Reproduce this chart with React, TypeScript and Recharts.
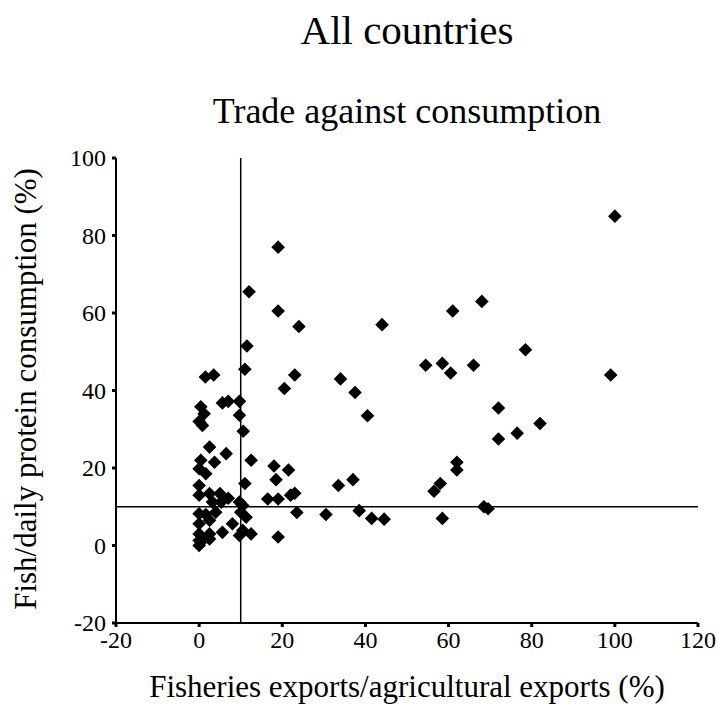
import { ScatterChart, Scatter, XAxis, YAxis, ReferenceLine } from 'recharts';

// Fisheries exports / agricultural exports (%)
const exportShare = [
  100, 68, 61, 44, 78.5, 54.5, 58.5, 60.5, 66, 99, 40.5, 72, 72, 76.5, 82, 62, 62, 58, 56.5, 68.5, 69.5, 58.5, 41.5, 44.5,
  19, 12, 19, 24, 11.5, 11, 1.5, 3.5, 23, 20.5, 34, 37.5, 21.5, 18.5, 18, 12.5, 33.5, 37, 23, 22, 16.5, 19, 23.5, 30.5, 38.5, 19,
  0.4, 1.2, 0, 0.8, 5.6, 7, 9.7, 9.7, 10.6, 2.5, 6.5, 0.4, 3.7, 0, 1.6, 11, 0, 0, 2.5, 5, 7, 9.7, 3.2, 5.3, 10.5,
  0, 0, 0, 0, 1.6, 2.5, 4, 2.5, 5.6, 8, 10, 11.3, 10.5, 9.7, 12.5, 0.8, 2.5, 0,
];

// Fish / daily protein consumption (%)
const proteinShare = [
  85, 63, 60.5, 57, 50.5, 46.5, 47, 44.5, 46.5, 44, 33.5, 35.5, 27.5, 29, 31.5, 21.5, 19.5, 16, 14, 10, 9.5, 7, 7, 6.8,
  77, 65.5, 60.5, 56.5, 51.5, 45.5, 43.5, 44, 44, 40.5, 43, 39.5, 19.5, 17, 20.5, 22, 15.5, 17, 13.5, 13, 12, 12, 8.5, 8, 9, 2.2,
  35.8, 34, 32, 31, 36.8, 37.2, 37.2, 33.6, 29.5, 25.4, 23.7, 22, 21.5, 19.8, 18.5, 16, 15.5, 13, 13.4, 13.4, 12.2, 11.2, 11.2, 11.2, 10.3,
  8.2, 5.6, 3, 1.3, 8, 6.5, 8.6, 3, 3.4, 5.6, 8.6, 7.3, 3.9, 2.6, 3, 1.3, 1.7, 0,
];

const xTicks = [-20, 0, 20, 40, 60, 80, 100, 120];
const yTicks = [-20, 0, 20, 40, 60, 80, 100];

const data = exportShare.map((x, i) => ({ x, y: proteinShare[i] }));

const FONT = '"Liberation Serif", "Times New Roman", serif';

function Diamond(props: any) {
  const { cx, cy } = props;
  const r = 6.8;
  return <polygon points={`${cx},${cy - r} ${cx + r},${cy} ${cx},${cy + r} ${cx - r},${cy}`} fill="#000" />;
}

// serif tick labels, like the original
function XTick({ x, y, payload }: any) {
  return (
    <text x={x} y={y + 17} textAnchor="middle" fill="#000" style={{ fontFamily: FONT, fontSize: 24 }}>
      {payload.value}
    </text>
  );
}

function YTick({ x, y, payload }: any) {
  return (
    <text x={x} y={y + 8} textAnchor="end" fill="#000" style={{ fontFamily: FONT, fontSize: 24 }}>
      {payload.value}
    </text>
  );
}

export default function App() {
  return (
    <div style={{ position: 'absolute', left: 0, top: 0, width: 717, height: 725, fontFamily: FONT }}>
      <style>{'.recharts-surface { overflow: visible; }'}</style>
      <ScatterChart width={717} height={725} margin={{ top: 158, right: 19, left: 56, bottom: 62 }}>
        <XAxis
          type="number"
          dataKey="x"
          domain={[-20, 120]}
          ticks={xTicks}
          height={40}
          axisLine={{ stroke: '#000', strokeWidth: 2 }}
          tickLine={{ stroke: '#000', strokeWidth: 3 }}
          tickSize={4}
          tickMargin={4}
          tick={(p: any) => <XTick {...p} />}
        />
        <YAxis
          type="number"
          dataKey="y"
          domain={[-20, 100]}
          ticks={yTicks}
          width={60}
          axisLine={{ stroke: '#000', strokeWidth: 2 }}
          tickLine={{ stroke: '#000', strokeWidth: 3 }}
          tickSize={4}
          tickMargin={6}
          tick={(p: any) => <YTick {...p} />}
        />
        <ReferenceLine x={10} stroke="#000" strokeWidth={1.5} />
        <ReferenceLine y={10} stroke="#000" strokeWidth={1.5} />
        <Scatter data={data} isAnimationActive={false} shape={(p: any) => <Diamond {...p} />} />
      </ScatterChart>
      <svg width={717} height={725} style={{ position: 'absolute', left: 0, top: 0, pointerEvents: 'none' }}>
        <text x={407} y={44} textAnchor="middle" fontSize={41} fontFamily={FONT} fill="#000">
          All countries
        </text>
        <text x={407} y={123} textAnchor="middle" fontSize={36} fontFamily={FONT} fill="#000">
          Trade against consumption
        </text>
        <text
          x={0}
          y={0}
          transform="translate(36, 389) rotate(-90)"
          textAnchor="middle"
          fontSize={31}
          fontFamily={FONT}
          fill="#000"
        >
          Fish/daily protein consumption (%)
        </text>
        <text x={407} y={697} textAnchor="middle" fontSize={31} fontFamily={FONT} fill="#000">
          Fisheries exports/agricultural exports (%)
        </text>
      </svg>
    </div>
  );
}
